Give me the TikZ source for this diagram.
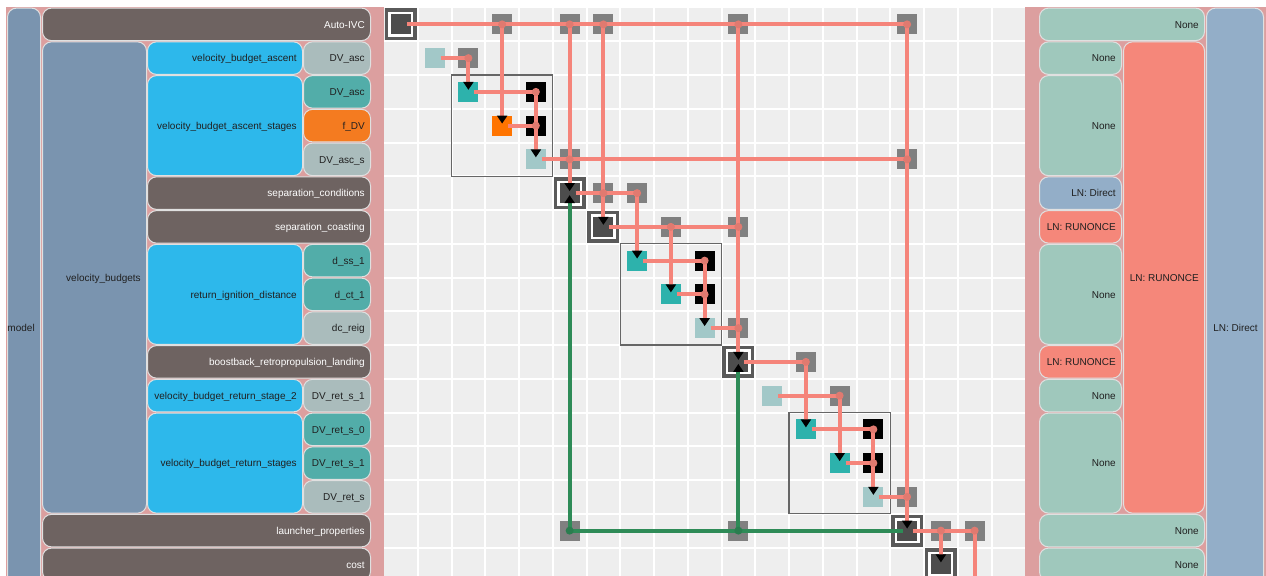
\documentclass[tikz,border=0pt]{standalone}
\usepackage{fontspec}
\setmainfont{Liberation Sans}
\usetikzlibrary{arrows.meta,calc}
\definecolor{pinkbg}{HTML}{DC9F9F}
\definecolor{grp}{HTML}{7A94AF}
\definecolor{comp}{HTML}{6E6361}
\definecolor{sub}{HTML}{2DB8EB}
\definecolor{varg}{HTML}{AABCBC}
\definecolor{vart}{HTML}{52ADA9}
\definecolor{varo}{HTML}{F47B20}
\definecolor{solnone}{HTML}{9FC8BC}
\definecolor{soldir}{HTML}{93AEC8}
\definecolor{solrun}{HTML}{F5877A}
\definecolor{mbg}{HTML}{EEEEEE}
\definecolor{cdark}{HTML}{4D4D4D}
\definecolor{cframe}{HTML}{5A5A5A}
\definecolor{cgray}{HTML}{808080}
\definecolor{clight}{HTML}{A2C8C8}
\definecolor{cteal}{HTML}{2DB2AC}
\definecolor{corange}{HTML}{FF7400}
\definecolor{conn}{HTML}{F5847A}
\definecolor{conndot}{HTML}{E07A70}
\definecolor{fb}{HTML}{2E8B57}
\definecolor{fbdot}{HTML}{2A7D4F}
\definecolor{txt}{HTML}{202020}
\definecolor{grpframe}{HTML}{666666}

\newcommand{\lbox}[8]{%
  \path[boxst, fill=#5] ({#1+0.5},{7.5+33.75*#2+0.6}) rectangle ({#3-0.5},{7.5+33.75*(#4+1)-0.6});
  \node[lblst, text=#6, anchor=base east] (#8) at ({#3-6},{7.5+33.75*(#2+#4+1)/2+3.7}) {#7};}

\begin{document}
\begin{tikzpicture}[x=0.75pt,y=-0.75pt,
  boxst/.style={draw=white!88!black, line width=0.75pt, rounded corners=6.75pt},
  lblst/.style={font=\fontsize{7.5}{9}\selectfont, inner sep=0pt},
  cellsq/.style={minimum size=15pt, inner sep=0pt, outer sep=0pt, draw=none},
  sqgray/.style={cellsq, fill=cgray},
  sqblack/.style={cellsq, fill=black},
  sqdark/.style={cellsq, fill=cdark},
  sqlight/.style={cellsq, fill=clight},
  sqteal/.style={cellsq, fill=cteal},
  sqorange/.style={cellsq, fill=corange},
  frm/.style={minimum size=21.4pt, inner sep=0pt, outer sep=0pt, draw=cframe, line width=2.6pt, fill=white},
  cline/.style={draw=conn, line width=3pt},
  fline/.style={draw=fb, line width=3pt},
  blacktip/.style={-{Triangle[length=6pt,width=7.5pt,color=black]}},
  cdot/.style={circle, fill=conndot, minimum size=6pt, inner sep=0pt, draw=none},
  gdot/.style={circle, fill=fbdot, minimum size=6pt, inner sep=0pt, draw=none},
  grpbox/.style={draw=grpframe, line width=1.1pt}
]
\useasboundingbox (0,0) rectangle (1266,575);
\clip (0,0) rectangle (1266,575);

% backgrounds
\fill[pinkbg] (6,7) rectangle (384,580);
\fill[pinkbg] (1025.25,7) rectangle (1266,580);
\fill[mbg] (384,7.5) rectangle (1025.25,580);
\foreach \k in {1,...,18}{
  \draw[white, line width=1.5pt] ({384+33.75*\k},7.5) -- ({384+33.75*\k},580);
  \draw[white, line width=1.5pt] (384,{7.5+33.75*\k}) -- (1025.25,{7.5+33.75*\k});
}

% left hierarchy
\lbox{7}{0}{41}{18}{grp}{txt}{model}{nmodel}
\lbox{42}{0}{371}{0}{comp}{white}{Auto-IVC}{nivc}
\lbox{42}{1}{147}{14}{grp}{txt}{velocity\_budgets}{nvb}
\lbox{147}{1}{303}{1}{sub}{txt}{velocity\_budget\_ascent}{nvba}
\lbox{303}{1}{371}{1}{varg}{txt}{DV\_asc}{nvone}
\lbox{147}{2}{303}{4}{sub}{txt}{velocity\_budget\_ascent\_stages}{nvbas}
\lbox{303}{2}{371}{2}{vart}{txt}{DV\_asc}{nvtwo}
\lbox{303}{3}{371}{3}{varo}{txt}{f\_DV}{nvthree}
\lbox{303}{4}{371}{4}{varg}{txt}{DV\_asc\_s}{nvfour}
\lbox{147}{5}{371}{5}{comp}{white}{separation\_conditions}{nsc}
\lbox{147}{6}{371}{6}{comp}{white}{separation\_coasting}{nsco}
\lbox{147}{7}{303}{9}{sub}{txt}{return\_ignition\_distance}{nrid}
\lbox{303}{7}{371}{7}{vart}{txt}{d\_ss\_1}{nvseven}
\lbox{303}{8}{371}{8}{vart}{txt}{d\_ct\_1}{nveight}
\lbox{303}{9}{371}{9}{varg}{txt}{dc\_reig}{nvnine}
\lbox{147}{10}{371}{10}{comp}{white}{boostback\_retropropulsion\_landing}{nbrl}
\lbox{147}{11}{303}{11}{sub}{txt}{velocity\_budget\_return\_stage\_2}{nvbrtwo}
\lbox{303}{11}{371}{11}{varg}{txt}{DV\_ret\_s\_1}{nveleven}
\lbox{147}{12}{303}{14}{sub}{txt}{velocity\_budget\_return\_stages}{nvbrs}
\lbox{303}{12}{371}{12}{vart}{txt}{DV\_ret\_s\_0}{nvtwelve}
\lbox{303}{13}{371}{13}{vart}{txt}{DV\_ret\_s\_1}{nvthirteen}
\lbox{303}{14}{371}{14}{varg}{txt}{DV\_ret\_s}{nvfourteen}
\lbox{42}{15}{371}{15}{comp}{white}{launcher\_properties}{nlp}
\lbox{42}{16}{371}{16}{comp}{white}{cost}{ncost}

% right solver columns
\lbox{1039}{0}{1205}{0}{solnone}{txt}{None}{rzero}
\lbox{1039}{1}{1122}{1}{solnone}{txt}{None}{rone}
\lbox{1039}{2}{1122}{4}{solnone}{txt}{None}{rtwo}
\lbox{1039}{5}{1122}{5}{soldir}{txt}{LN: Direct}{rfive}
\lbox{1039}{6}{1122}{6}{solrun}{txt}{LN: RUNONCE}{rsix}
\lbox{1039}{7}{1122}{9}{solnone}{txt}{None}{rseven}
\lbox{1039}{10}{1122}{10}{solrun}{txt}{LN: RUNONCE}{rten}
\lbox{1039}{11}{1122}{11}{solnone}{txt}{None}{releven}
\lbox{1039}{12}{1122}{14}{solnone}{txt}{None}{rtwelve}
\lbox{1123}{1}{1205}{14}{solrun}{txt}{LN: RUNONCE}{rF}
\lbox{1039}{15}{1205}{15}{solnone}{txt}{None}{rfifteen}
\lbox{1039}{16}{1205}{16}{solnone}{txt}{None}{rsixteen}
\lbox{1206}{0}{1264}{18}{soldir}{txt}{LN: Direct}{rG}

% cell centres
\foreach \r in {0,...,18}{\foreach \c in {0,...,18}{
  \coordinate (p\r-\c) at ({400.875+33.75*\c},{24.375+33.75*\r});}}

% group frames
\draw[grpbox] (451.5,75) rectangle (552.75,176.25);
\draw[grpbox] (620.25,243.75) rectangle (721.5,345);
\draw[grpbox] (789,412.5) rectangle (890.25,513.75);

% diagonal cells
\node[frm] (f0) at (p0-0) {}; \node[sqdark] (d0) at (p0-0) {};
\node[sqlight] (d1) at (p1-1) {};
\node[sqteal] (d2) at (p2-2) {};
\node[sqorange] (d3) at (p3-3) {};
\node[sqlight] (d4) at (p4-4) {};
\node[frm] (f5) at (p5-5) {}; \node[sqdark] (d5) at (p5-5) {};
\node[frm] (f6) at (p6-6) {}; \node[sqdark] (d6) at (p6-6) {};
\node[sqteal] (d7) at (p7-7) {};
\node[sqteal] (d8) at (p8-8) {};
\node[sqlight] (d9) at (p9-9) {};
\node[frm] (f10) at (p10-10) {}; \node[sqdark] (d10) at (p10-10) {};
\node[sqlight] (d11) at (p11-11) {};
\node[sqteal] (d12) at (p12-12) {};
\node[sqteal] (d13) at (p13-13) {};
\node[sqlight] (d14) at (p14-14) {};
\node[frm] (f15) at (p15-15) {}; \node[sqdark] (d15) at (p15-15) {};
\node[frm] (f16) at (p16-16) {}; \node[sqdark] (d16) at (p16-16) {};
\coordinate (d17) at (p17-17);

% off-diagonal cells
\foreach \n in {0-3,0-5,0-6,0-10,0-15,1-2,4-5,4-15,5-6,5-7,6-8,6-10,9-10,10-12,11-13,14-15,15-5,15-10,15-16,15-17}{
  \node[sqgray] (s\n) at (p\n) {};}
\foreach \n in {2-4,3-4,7-9,8-9,12-14,13-14}{
  \node[sqblack] (s\n) at (p\n) {};}

% connections (horizontal, from source outputs)
\draw[cline] ($(d0)+(6,0)$) -- (s0-15.center);
\draw[cline] ($(d1)+(6,0)$) -- (s1-2.center);
\draw[cline] ($(d2)+(6,0)$) -- (s2-4.center);
\draw[cline] ($(d3)+(6,0)$) -- (s3-4.center);
\draw[cline] ($(d4)+(6,0)$) -- (s4-15.center);
\draw[cline] ($(d5)+(6,0)$) -- (s5-7.center);
\draw[cline] ($(d6)+(6,0)$) -- (s6-10.center);
\draw[cline] ($(d7)+(6,0)$) -- (s7-9.center);
\draw[cline] ($(d8)+(6,0)$) -- (s8-9.center);
\draw[cline] ($(d9)+(6,0)$) -- (s9-10.center);
\draw[cline] ($(d10)+(6,0)$) -- (s10-12.center);
\draw[cline] ($(d11)+(6,0)$) -- (s11-13.center);
\draw[cline] ($(d12)+(6,0)$) -- (s12-14.center);
\draw[cline] ($(d13)+(6,0)$) -- (s13-14.center);
\draw[cline] ($(d14)+(6,0)$) -- (s14-15.center);
\draw[cline] ($(d15)+(6,0)$) -- (s15-17.center);

% connections (vertical, into targets)
\draw[cline,blacktip] (s0-3.center) -- ($(d3)+(0,-2)$);
\draw[cline,blacktip] (s0-5.center) -- ($(d5)+(0,-2)$);
\draw[cline,blacktip] (s0-6.center) -- ($(d6)+(0,-2)$);
\draw[cline,blacktip] (s0-10.center) -- ($(d10)+(0,-2)$);
\draw[cline,blacktip] (s0-15.center) -- ($(d15)+(0,-2)$);
\draw[cline,blacktip] (s1-2.center) -- ($(d2)+(0,-2)$);
\draw[cline,blacktip] (s2-4.center) -- ($(d4)+(0,-2)$);
\draw[cline,blacktip] (s5-7.center) -- ($(d7)+(0,-2)$);
\draw[cline,blacktip] (s6-8.center) -- ($(d8)+(0,-2)$);
\draw[cline,blacktip] (s7-9.center) -- ($(d9)+(0,-2)$);
\draw[cline,blacktip] (s10-12.center) -- ($(d12)+(0,-2)$);
\draw[cline,blacktip] (s11-13.center) -- ($(d13)+(0,-2)$);
\draw[cline,blacktip] (s12-14.center) -- ($(d14)+(0,-2)$);
\draw[cline,blacktip] (s15-16.center) -- ($(d16)+(0,-2)$);
\draw[cline,blacktip] (s15-17.center) -- ($(d17)+(0,-2)$);

% feedback connections (green)
\draw[fline] ($(d15)+(-4,0)$) -- (s15-5.center);
\draw[fline,blacktip] (s15-5.center) -- ($(d5)+(0,2)$);
\draw[fline,blacktip] (s15-10.center) -- ($(d10)+(0,2)$);

% dots
\foreach \n in {0-3,0-5,0-6,0-10,0-15,1-2,2-4,3-4,4-5,4-15,5-6,5-7,6-8,6-10,7-9,8-9,9-10,10-12,11-13,12-14,13-14,14-15,15-16,15-17}{
  \node[cdot] (k\n) at (p\n) {};}
\node[gdot] (k15-5) at (p15-5) {};
\node[gdot] (k15-10) at (p15-10) {};
\end{tikzpicture}
\end{document}
